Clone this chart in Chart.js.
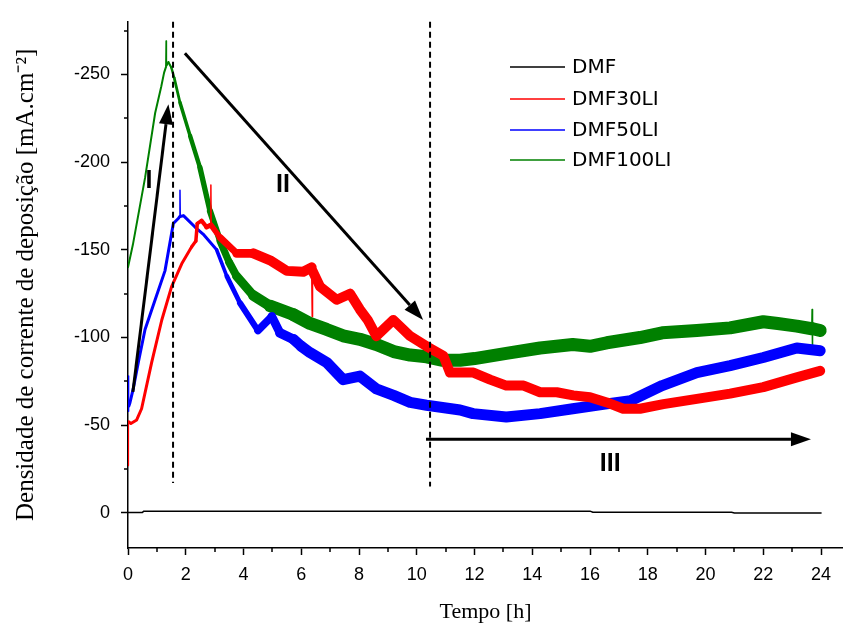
<!DOCTYPE html>
<html>
<head>
<meta charset="utf-8">
<title>Densidade de corrente de deposição</title>
<script src="https://cdn.jsdelivr.net/npm/chart.js@4.4.1/dist/chart.umd.min.js"></script>
<style>
  html, body { margin: 0; padding: 0; background: #fff; }
  #wrap { width: 843px; height: 625px; }
</style>
</head>
<body>
<div id="wrap"><canvas id="chart" width="843" height="625"></canvas></div>
<script>
// values (time in h, current density in mA.cm-2)
const dmfTime = [0, 0.5, 0.55, 16.0, 16.1, 20.9, 21.0, 24.0];
const dmfValues = [-0.3, -0.3, -1.0, -1.0, -0.4, -0.4, 0, 0];

const dmf30Time = [0, 0.005, 0.02, 0.1, 0.3, 0.47, 0.82, 1.17, 1.51, 1.86, 2.2, 2.35, 2.4, 2.55, 2.72, 2.86, 2.87, 2.88,
  3.19, 3.76, 4.34, 4.92, 5.5, 6.07, 6.36, 6.38, 6.39, 6.65, 7.23, 7.69, 8.03, 8.3, 8.6, 9.19, 9.77, 10.34, 10.92,
  11.15, 11.96, 12.54, 13.1, 13.7, 14.27, 14.85, 15.42, 16.0, 16.58, 17.15, 17.73, 18.54, 19.7, 20.85, 22.0, 23.16, 23.97];
const dmf30Values = [-27, -50, -52, -51, -53, -59.4, -85.8, -110, -129, -142, -151.6, -155, -165, -166.6, -163, -164, -187, -164,
  -157, -148, -148, -144, -138, -137.5, -140, -112, -138, -129, -121.5, -125, -116, -110, -100.8, -110, -100.8, -95, -89.6,
  -80, -80, -76, -72.6, -72.6, -68.8, -68.8, -67, -66, -63, -59.4, -59.4, -62, -65, -68, -71.7, -77.3, -81];

const dmf50Time = [0, 0.01, 0.03, 0.07, 0.18, 0.36, 0.59, 0.94, 1.28, 1.57, 1.75, 1.79, 1.80, 1.81, 1.92, 2.32, 2.6, 3.07,
  3.42, 3.88, 4.5, 4.98, 5.26, 5.73, 6.0, 6.3, 6.88, 7.45, 8.03, 8.6, 9.2, 9.77, 10.34, 11.5, 11.95, 13.1, 14.27, 15.4,
  16.58, 17.4, 18.5, 19.7, 20.85, 22.0, 23.16, 23.97];
const dmf50Values = [-58, -78, -61, -63, -70.7, -86, -104.6, -121.5, -138, -165, -168, -169, -184, -169, -169.5, -163, -159, -150,
  -135, -119.6, -104, -112, -102.7, -99, -95, -91.4, -85.8, -76, -78, -70.7, -67, -63, -61.4, -58.7, -56.6, -54.7, -56.6, -59.4,
  -62.2, -64, -72.6, -80, -84, -88.6, -94, -92.5];

const dmf100Time = [0, 0.17, 0.59, 0.94, 1.15, 1.25, 1.31, 1.32, 1.33, 1.40, 1.5, 1.6, 1.8, 2.15, 2.49, 2.84, 3.19, 3.5, 3.76,
  4.34, 4.92, 5.73, 6.3, 6.88, 7.45, 8.03, 8.6, 9.2, 9.77, 10.34, 10.9, 11.5, 12.0, 13.1, 14.27, 15.4, 16.0, 16.58, 17.73,
  18.5, 19.7, 20.85, 22.0, 22.5, 23.16, 23.68, 23.69, 23.70, 23.71, 23.97];
const dmf100Values = [-140, -153, -191, -228, -243, -251, -254, -269, -255, -257, -254, -248, -234, -215, -197, -172, -155, -143, -135,
  -124, -118, -113, -108, -104.6, -101, -99, -96, -92, -90, -89, -87, -87, -88, -91, -94, -96, -95, -97, -100,
  -102.7, -104, -105.5, -109, -108, -106.5, -105, -116, -91, -105, -104];

const seriesNames = ["DMF", "DMF30LI", "DMF50LI", "DMF100LI"];

const xTicks = [0, 2, 4, 6, 8, 10, 12, 14, 16, 18, 20, 22, 24];
const xMinorTicks = [1, 3, 5, 7, 9, 11, 13, 15, 17, 19, 21, 23];
const yTicks = [-250, -200, -150, -100, -50, 0];
const yMinorTicks = [-275, -225, -175, -125, -75, -25];

// annotation marks (data units)
const phaseLines = [
  { x: 1.56, yFrom: -280, yTo: -17 },
  { x: 10.46, yFrom: -280, yTo: -15 },
];
const phaseArrows = [
  { from: [0.17, -69], to: [1.40, -233] },
  { from: [1.97, -262], to: [10.22, -110] },
  { from: [10.32, -42], to: [23.65, -42] },
];
const phaseLabels = [
  { text: "I", x: 0.73, y: -189 },
  { text: "II", x: 5.37, y: -187 },
  { text: "III", x: 16.7, y: -28 },
];

const colors = {
  DMF: "#000000",
  DMF30LI: "#ff0000",
  DMF50LI: "#0000ff",
  DMF100LI: "#008000",
};

// noise band of each trace approximated with a widening stroke
const lineWeights = {
  DMF: { thin: 1.5, thick: 1.5, from: 0, to: 1 },
  DMF30LI: { thin: 3, thick: 10, from: 2.2, to: 4.5 },
  DMF50LI: { thin: 3, thick: 11, from: 3, to: 6 },
  DMF100LI: { thin: 2, thick: 13, from: 1.4, to: 5.5 },
};

function toPoints(times, values) {
  return times.map((t, i) => ({ x: t, y: values[i] }));
}

function segmentWidth(weight) {
  return (ctx) => {
    const x0 = ctx.p0.parsed.x;
    const x1 = ctx.p1.parsed.x;
    if (x1 - x0 < 0.02) {
      return 1.5;
    }
    const mid = (x0 + x1) / 2;
    const k = Math.min(1, Math.max(0, (mid - weight.from) / (weight.to - weight.from)));
    return weight.thin + (weight.thick - weight.thin) * k;
  };
}

function makeDataset(name, times, values) {
  return {
    label: name,
    data: toPoints(times, values),
    borderColor: colors[name],
    borderWidth: lineWeights[name].thin,
    borderCapStyle: "round",
    borderJoinStyle: "round",
    pointRadius: 0,
    tension: 0,
    segment: { borderWidth: segmentWidth(lineWeights[name]) },
  };
}

const legendPlugin = {
  id: "cornerLegend",
  afterDraw(chart) {
    const ctx = chart.ctx;
    ctx.save();
    ctx.font = "20px 'DejaVu Sans'";
    ctx.textBaseline = "middle";
    ctx.textAlign = "left";
    const rows = [67, 99, 130, 160];
    chart.data.datasets.forEach((ds, i) => {
      ctx.strokeStyle = ds.borderColor;
      ctx.lineWidth = 1.5;
      ctx.beginPath();
      ctx.moveTo(510, rows[i]);
      ctx.lineTo(565, rows[i]);
      ctx.stroke();
      ctx.fillStyle = "#000";
      ctx.fillText(ds.label, 572, rows[i] + 1);
    });
    ctx.restore();
  },
};

const minorTickPlugin = {
  id: "minorTicks",
  afterDraw(chart) {
    const { ctx, scales } = chart;
    const xs = scales.x;
    const ys = scales.y;
    ctx.save();
    ctx.strokeStyle = "#000";
    ctx.lineWidth = 1.5;
    ctx.beginPath();
    xMinorTicks.forEach((v) => {
      const px = Math.round(xs.getPixelForValue(v));
      ctx.moveTo(px, xs.top);
      ctx.lineTo(px, xs.top + 4);
    });
    yMinorTicks.forEach((v) => {
      const py = Math.round(ys.getPixelForValue(v));
      ctx.moveTo(ys.right, py);
      ctx.lineTo(ys.right - 4, py);
    });
    ctx.stroke();
    ctx.restore();
  },
};

function drawArrow(ctx, x0, y0, x1, y1) {
  const angle = Math.atan2(y1 - y0, x1 - x0);
  const headLen = 20;
  const headHalf = 7;
  const bx = x1 - headLen * Math.cos(angle);
  const by = y1 - headLen * Math.sin(angle);
  ctx.beginPath();
  ctx.moveTo(x0, y0);
  ctx.lineTo(bx, by);
  ctx.stroke();
  ctx.beginPath();
  ctx.moveTo(x1, y1);
  ctx.lineTo(bx + headHalf * Math.sin(angle), by - headHalf * Math.cos(angle));
  ctx.lineTo(bx - headHalf * Math.sin(angle), by + headHalf * Math.cos(angle));
  ctx.closePath();
  ctx.fill();
}

const phasePlugin = {
  id: "phaseMarks",
  afterDatasetsDraw(chart) {
    const { ctx, scales } = chart;
    const xs = scales.x;
    const ys = scales.y;
    ctx.save();
    ctx.strokeStyle = "#000";
    ctx.fillStyle = "#000";

    ctx.lineWidth = 2;
    ctx.setLineDash([6, 4]);
    phaseLines.forEach((line) => {
      const px = xs.getPixelForValue(line.x);
      ctx.beginPath();
      ctx.moveTo(px, ys.getPixelForValue(line.yFrom));
      ctx.lineTo(px, ys.getPixelForValue(line.yTo));
      ctx.stroke();
    });
    ctx.setLineDash([]);

    ctx.lineWidth = 3;
    phaseArrows.forEach((arrow) => {
      drawArrow(
        ctx,
        xs.getPixelForValue(arrow.from[0]), ys.getPixelForValue(arrow.from[1]),
        xs.getPixelForValue(arrow.to[0]), ys.getPixelForValue(arrow.to[1])
      );
    });

    ctx.font = "bold 25px 'Liberation Sans'";
    ctx.textAlign = "center";
    ctx.textBaseline = "middle";
    phaseLabels.forEach((label) => {
      ctx.fillText(label.text, xs.getPixelForValue(label.x), ys.getPixelForValue(label.y));
    });
    ctx.restore();
  },
};

new Chart(document.getElementById("chart"), {
  type: "line",
  data: {
    datasets: [
      makeDataset(seriesNames[0], dmfTime, dmfValues),
      makeDataset(seriesNames[1], dmf30Time, dmf30Values),
      makeDataset(seriesNames[2], dmf50Time, dmf50Values),
      makeDataset(seriesNames[3], dmf100Time, dmf100Values),
    ],
  },
  options: {
    responsive: false,
    animation: false,
    events: [],
    layout: { padding: { top: 16, right: 0, bottom: 0, left: 0 } },
    plugins: {
      legend: { display: false },
      tooltip: { enabled: false },
    },
    scales: {
      x: {
        type: "linear",
        min: 0,
        max: 24.76,
        afterBuildTicks: (scale) => {
          scale.ticks = xTicks.map((v) => ({ value: v }));
        },
        afterFit: (scale) => {
          scale.height = 77;
        },
        border: { display: true, color: "#000", width: 1.5 },
        grid: { drawOnChartArea: false, drawTicks: true, tickLength: 7, tickColor: "#000", tickWidth: 1.5 },
        ticks: {
          color: "#000",
          font: { family: "'Liberation Sans'", size: 18 },
          padding: 9,
          maxRotation: 0,
          callback: (v) => String(v),
        },
        title: {
          display: true,
          text: "Tempo [h]",
          color: "#000",
          font: { family: "'Liberation Serif'", size: 22 },
          padding: { top: 0, bottom: 0 },
        },
      },
      y: {
        type: "linear",
        reverse: true,
        min: -280,
        max: 20,
        afterBuildTicks: (scale) => {
          scale.ticks = yTicks.map((v) => ({ value: v }));
        },
        afterFit: (scale) => {
          scale.width = 128;
        },
        border: { display: true, color: "#000", width: 1.5 },
        grid: { drawOnChartArea: false, drawTicks: true, tickLength: 7, tickColor: "#000", tickWidth: 1.5 },
        ticks: {
          color: "#000",
          font: { family: "'Liberation Sans'", size: 18 },
          padding: 11,
          callback: (v) => String(v),
        },
        title: {
          display: true,
          text: "Densidade de corrente de deposição [mA.cm⁻²]",
          color: "#000",
          font: { family: "'Liberation Serif'", size: 25 },
          padding: { top: 11, bottom: 0 },
        },
      },
    },
  },
  plugins: [phasePlugin, minorTickPlugin, legendPlugin],
});
</script>
</body>
</html>
